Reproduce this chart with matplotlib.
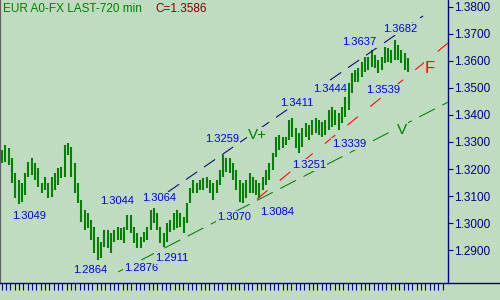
import matplotlib
matplotlib.use("Agg")
import matplotlib.pyplot as plt
import numpy as np
from matplotlib.lines import Line2D

plt.rcParams["font.family"] = ["Liberation Sans", "DejaVu Sans"]

# ── colours ───────────────────────────────────────────────────────────────
BG = "#C0DCC0"
NAVY = "#000080"
BAR = "#008000"
LABEL = "#0000FF"

# ── price bars (720 min), high / low ──────────────────────────────────────
highs = [
    1.3270, 1.3289, 1.3278, 1.3241, 1.3185, 1.3159, 1.3148, 1.3185, 1.3226, 1.3241,
    1.3222, 1.3204, 1.3148, 1.3170, 1.3148, 1.3170, 1.3185, 1.3204, 1.3207, 1.3289,
    1.3296, 1.3281, 1.3222, 1.3148, 1.3085, 1.3048, 1.3037, 1.3011, 1.2985, 1.2948,
    1.2930, 1.2974, 1.2974, 1.2963, 1.2974, 1.2985, 1.2981, 1.2985, 1.3030, 1.3030,
    1.2985, 1.2963, 1.2948, 1.2967, 1.2985, 1.3048, 1.3056, 1.3037, 1.2985, 1.2963,
    1.3000, 1.3011, 1.3037, 1.3048, 1.3037, 1.3022, 1.3074, 1.3130, 1.3159, 1.3148,
    1.3159, 1.3167, 1.3170, 1.3159, 1.3148, 1.3159, 1.3196, 1.3252, 1.3241, 1.3241,
    1.3222, 1.3196, 1.3159, 1.3148, 1.3159, 1.3185, 1.3170, 1.3159, 1.3148, 1.3170,
    1.3196, 1.3222, 1.3259, 1.3319, 1.3326, 1.3319, 1.3319, 1.3381, 1.3389, 1.3352,
    1.3333, 1.3352, 1.3370, 1.3363, 1.3381, 1.3389, 1.3381, 1.3374, 1.3381, 1.3419,
    1.3430, 1.3419, 1.3407, 1.3430, 1.3467, 1.3519, 1.3556, 1.3567, 1.3574, 1.3596,
    1.3615, 1.3615, 1.3641, 1.3622, 1.3604, 1.3615, 1.3652, 1.3648, 1.3641, 1.3678,
    1.3659, 1.3641, 1.3630, 1.3611,
]
lows = [
    1.3222, 1.3226, 1.3215, 1.3148, 1.3093, 1.3070, 1.3078, 1.3104, 1.3170, 1.3178,
    1.3159, 1.3133, 1.3111, 1.3122, 1.3093, 1.3096, 1.3122, 1.3141, 1.3167, 1.3170,
    1.3252, 1.3170, 1.3111, 1.3074, 1.3004, 1.2974, 1.2981, 1.2937, 1.2889, 1.2863,
    1.2870, 1.2911, 1.2907, 1.2889, 1.2930, 1.2937, 1.2937, 1.2926, 1.2974, 1.2963,
    1.2926, 1.2907, 1.2907, 1.2930, 1.2937, 1.2974, 1.3000, 1.2974, 1.2926, 1.2911,
    1.2930, 1.2967, 1.2974, 1.2981, 1.2985, 1.2963, 1.3000, 1.3074, 1.3111, 1.3111,
    1.3122, 1.3122, 1.3130, 1.3111, 1.3085, 1.3111, 1.3141, 1.3170, 1.3189, 1.3185,
    1.3159, 1.3122, 1.3078, 1.3074, 1.3093, 1.3111, 1.3111, 1.3104, 1.3093, 1.3122,
    1.3141, 1.3159, 1.3196, 1.3244, 1.3270, 1.3278, 1.3289, 1.3307, 1.3319, 1.3278,
    1.3259, 1.3281, 1.3319, 1.3307, 1.3326, 1.3333, 1.3326, 1.3319, 1.3326, 1.3344,
    1.3356, 1.3363, 1.3344, 1.3370, 1.3393, 1.3419, 1.3481, 1.3522, 1.3522, 1.3541,
    1.3559, 1.3567, 1.3578, 1.3574, 1.3556, 1.3567, 1.3593, 1.3596, 1.3593, 1.3604,
    1.3604, 1.3593, 1.3567, 1.3559,
]
bars = np.arange(len(highs))

# ── trend lines: (bar, price) start / end ─────────────────────────────────
trend_vplus = [(50.3, 1.3115), (127.6, 1.3767)]
trend_f = [(77.3, 1.3089), (135.2, 1.3667)]
trend_v = [(35.2, 1.2819), (135.2, 1.3448)]

# ── price labels: (text, bar, price) ──────────────────────────────────────
price_labels = [
    ("1.3049", 3.0, 1.3026), ("1.2864", 21.5, 1.2826), ("1.3044", 29.7, 1.3081),
    ("1.3064", 42.4, 1.3093), ("1.2876", 37.0, 1.2833), ("1.2911", 46.4, 1.2870),
    ("1.3259", 61.5, 1.3311), ("1.3411", 84.2, 1.3444), ("1.3070", 65.2, 1.3022),
    ("1.3084", 78.2, 1.3041), ("1.3251", 87.9, 1.3215), ("1.3444", 94.2, 1.3496),
    ("1.3339", 100.0, 1.3293), ("1.3637", 103.0, 1.3670), ("1.3682", 115.5, 1.3719),
    ("1.3539", 110.3, 1.3493),
]

yticks = [1.29, 1.30, 1.31, 1.32, 1.33, 1.34, 1.35, 1.36, 1.37, 1.38]

# ── figure ────────────────────────────────────────────────────────────────
fig = plt.figure(figsize=(5, 3), dpi=100)
fig.patch.set_facecolor(BG)
ax = fig.add_axes([0, 17 / 300, 448 / 500, 283 / 300])
ax.set_facecolor(BG)

ax.vlines(bars, lows, highs, color=BAR, linewidth=1.5, zorder=2)

for (x0, y0), (x1, y1), col, dash in [
    (trend_vplus[0], trend_vplus[1], NAVY, (13, 8)),
    (trend_f[0], trend_f[1], "#FF0000", (13, 15)),
    (trend_v[0], trend_v[1], BAR, (17, 8)),
]:
    ax.plot([x0, x1], [y0, y1], color=col, linewidth=0.75, dashes=dash, zorder=3)

box = dict(facecolor=BG, edgecolor="none", pad=0.6)
for txt, bx, py in price_labels:
    ax.text(bx, py, txt, color=LABEL, fontsize=8, ha="left", va="center",
            bbox=box, zorder=4)

ax.text(74.5, 1.3326, "V+", color=BAR, fontsize=11, ha="left", va="center",
        bbox=box, zorder=4)
ax.text(119.7, 1.3344, "V", color=BAR, fontsize=11, ha="left", va="center",
        bbox=box, zorder=4)
ax.text(128.2, 1.3574, "F", color="#FF0000", fontsize=12, ha="left", va="center",
        bbox=box, zorder=4)

ax.set_xlim(-0.606, 135.15)
ax.set_ylim(1.27778, 1.38259)

# axes / ticks
ax.yaxis.tick_right()
ax.set_yticks(yticks)
ax.set_yticklabels([f"{v:.4f}" for v in yticks])
ax.tick_params(axis="y", colors=NAVY, labelcolor=NAVY, direction="out",
               length=3.5, width=0.8, pad=1, labelsize=8.5)
ax.set_xticks((np.linspace(1.7, 442.7, 103) - 2) / 3.3)
ax.tick_params(axis="x", colors=NAVY, direction="out", length=5, width=0.8,
               labelbottom=False)

ax.spines["top"].set_visible(False)
ax.spines["left"].set_color("#606060")
ax.spines["left"].set_linewidth(1.6)
ax.spines["right"].set_color(NAVY)
ax.spines["right"].set_linewidth(1.0)
ax.spines["bottom"].set_visible(False)
fig.add_artist(Line2D([0, 1], [17 / 300, 17 / 300], transform=fig.transFigure,
                      color=NAVY, linewidth=1.0))

fig.text(3 / 500, 1 - 8.5 / 300, "EUR A0-FX LAST-720 min", color=BAR,
         fontsize=8.5, ha="left", va="center")
fig.text(155 / 500, 1 - 8.5 / 300, "C=1.3586", color="#800000",
         fontsize=8.5, ha="left", va="center")

fig.savefig("out.png", dpi=100, facecolor=BG)
